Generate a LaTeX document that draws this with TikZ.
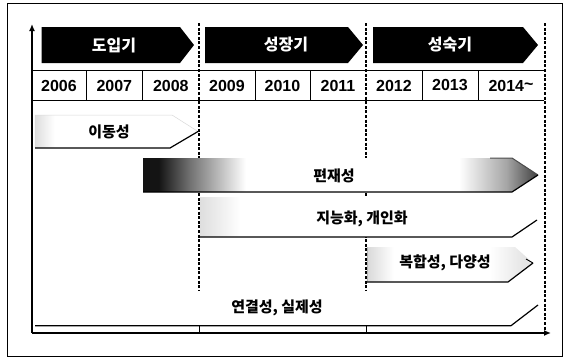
\documentclass[tikz,border=0pt]{standalone}
\usepackage{fontspec}
\setmainfont{Liberation Sans}
\newfontfamily\kr{Noto Sans CJK KR}
\usetikzlibrary{arrows.meta}
\pgfdeclarehorizontalshading{pyeon}{100bp}{color(0bp)=(black); color(27bp)=(black!92); color(31bp)=(black!55); color(38bp)=(white); color(65bp)=(white); color(71bp)=(black!35); color(75bp)=(black!75); color(100bp)=(black!75)}
\pgfdeclarehorizontalshading{faintleft}{100bp}{color(0bp)=(black!13); color(25bp)=(black!13); color(31bp)=(white); color(100bp)=(white)}
\pgfdeclarehorizontalshading{faintboth}{100bp}{color(0bp)=(black!15); color(25bp)=(black!15); color(33bp)=(white); color(62bp)=(white); color(72bp)=(black!10); color(100bp)=(black!10)}
\begin{document}
\begin{tikzpicture}[x=1pt,y=-1pt,
  phaselbl/.style={text=white,font=\kr\bfseries\fontsize{16}{16}\selectfont,inner sep=0pt},
  yearlbl/.style={font=\bfseries\fontsize{16}{16}\selectfont,inner sep=0pt},
  bandlbl/.style={font=\kr\bfseries\fontsize{15}{15}\selectfont,inner sep=0pt},
  edgeline/.style={line width=1.2pt,line join=round},
  cell/.style={line width=0.9pt},
  vdash/.style={line width=1.4pt,dash pattern=on 3pt off 1.6pt},
  axisline/.style={line width=1.3pt,-{Latex[length=7pt,width=6pt]}},
]
\useasboundingbox (0,0) rectangle (566,359);
\draw[line width=1pt] (7,3) rectangle (562,356);

% dashed period separators
\draw[vdash] (199,23) -- (199,290);
\draw[vdash] (366,23) -- (366,290);
\draw[vdash] (545,23) -- (545,333);
\draw[line width=1pt] (199,326) -- (199,333);
\draw[line width=1pt] (366,326) -- (366,333);

% phase arrows
\fill (41.7,27) -- (180,27) -- (194,45) -- (180,63) -- (41.7,63) -- cycle;
\fill (205,27) -- (348,27) -- (363,45) -- (348,63) -- (205,63) -- cycle;
\fill (373,27) -- (523,27) -- (538,45) -- (523,63) -- (373,63) -- cycle;
\node[phaselbl] (p1) at (114,45) {도입기};
\node[phaselbl] (p2) at (286,45) {성장기};
\node[phaselbl] (p3) at (450,45) {성숙기};

% year row
\draw[cell] (32,70) -- (544,70);
\draw[cell] (32,100) -- (544,100);
\foreach \x in {86,142.5,255,310,422,478} \draw[cell] (\x,70) -- (\x,100);
\node[yearlbl] (y06) at (59,85.5) {2006};
\node[yearlbl] (y07) at (114.3,85.5) {2007};
\node[yearlbl] (y08) at (170.8,85.5) {2008};
\node[yearlbl] (y09) at (227,85.5) {2009};
\node[yearlbl] (y10) at (282.5,85.5) {2010};
\node[yearlbl] (y11) at (338,85.5) {2011};
\node[yearlbl] (y12) at (394,85.5) {2012};
\node[yearlbl] (y13) at (450,85.5) {2013};
\node[yearlbl] (y14) at (511,85.5) {2014\raisebox{0.15ex}{\char"007E}};

% band: mobility
\shade[shading=faintleft] (35,115) -- (172,115) -- (198,131.5) -- (170,148) -- (35,148) -- cycle;
\draw[black!15,line width=0.5pt] (35,148) -- (35,115) -- (172,115) -- (198,131.5);
\draw[edgeline] (35,148) -- (170,148) -- (198,131.5);
\node[bandlbl] (b1) at (109,132) {이동성};

% band: ubiquity
\shade[shading=pyeon] (143,158) -- (512,158) -- (538,175) -- (512,192) -- (143,192) -- cycle;
\draw[black!70,line width=1pt] (490,158) -- (512,158) -- (538,175);
\draw[edgeline] (143,192) -- (512,192) -- (538,175);
\node[bandlbl] (b2) at (334,176) {편재성};

% band: intelligence
\shade[shading=faintleft] (200,197) -- (512,197) -- (537,218) -- (512,237) -- (200,237) -- cycle;
\draw[edgeline] (200,237) -- (512,237) -- (537,220);
\node[bandlbl] (b3) at (362,219) {지능화, 개인화};

% band: convergence
\shade[shading=faintboth] (367,247) -- (515,247) -- (533,263) -- (508,282) -- (367,282) -- cycle;
\draw[black!30,line width=0.6pt] (367,247) -- (367,282);
\draw[line width=0.9pt] (526,259) -- (533,263);
\draw[edgeline] (367,282) -- (508,282) -- (533,263);
\node[bandlbl] (b4) at (445,263) {복합성, 다양성};

% band: connectivity
\draw[edgeline] (35,325.7) -- (511,325.7) -- (538,305);
\node[bandlbl] (b5) at (277,308) {연결성, 실제성};

% axes
\coordinate (o) at (32,333);
\coordinate (ytop) at (32,24);
\coordinate (xend) at (551,333);
\draw[axisline] (o) -- (ytop);
\draw[axisline] (o) -- (xend);
\end{tikzpicture}
\end{document}
